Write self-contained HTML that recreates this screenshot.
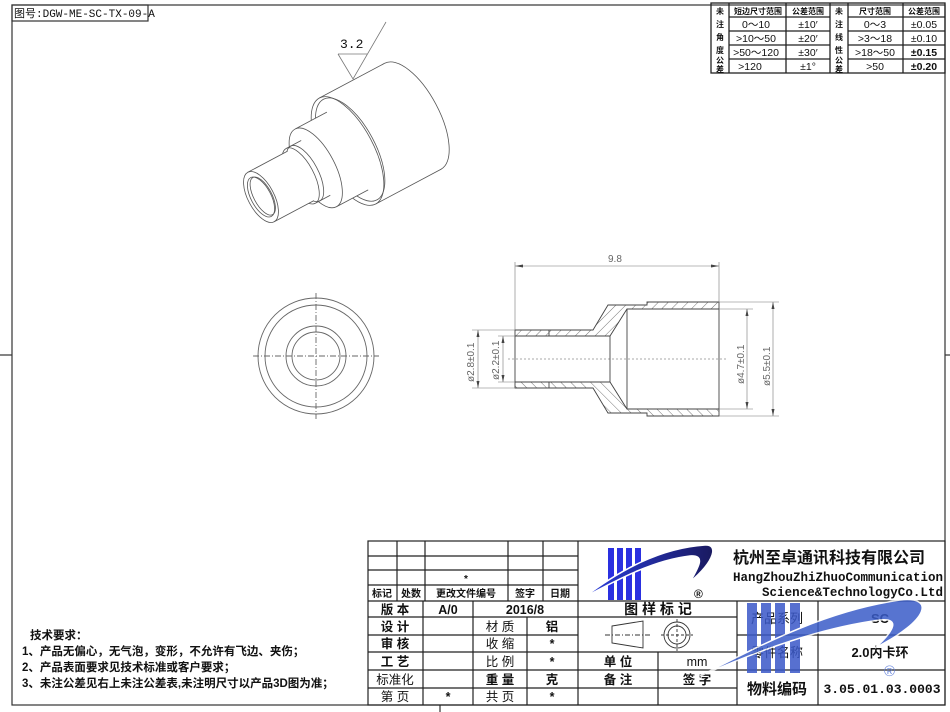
<!DOCTYPE html>
<html><head><meta charset="utf-8"><style>
html,body{margin:0;padding:0;background:#fff;}
svg{display:block;}
text{font-family:"Liberation Sans","Noto Sans CJK SC",sans-serif;fill:#111;}
.b{font-weight:bold;}
.m{font-family:"Liberation Mono","Noto Sans CJK SC",monospace;}
</style></head><body>
<svg width="950" height="712" viewBox="0 0 950 712" xmlns="http://www.w3.org/2000/svg">
<defs>
<pattern id="h1" width="7" height="7" patternUnits="userSpaceOnUse" patternTransform="rotate(45)"><line x1="0" y1="0" x2="0" y2="7" stroke="#555" stroke-width="0.8"/></pattern>
<pattern id="h2" width="7" height="7" patternUnits="userSpaceOnUse" patternTransform="rotate(-45)"><line x1="0" y1="0" x2="0" y2="7" stroke="#555" stroke-width="0.8"/></pattern>
<linearGradient id="sw" x1="0" y1="0" x2="1" y2="0"><stop offset="0" stop-color="#2a3ee0"/><stop offset="1" stop-color="#1a1a60"/></linearGradient>
</defs>
<!-- frame -->
<g stroke="#333" fill="none" stroke-width="1.2">
<rect x="12" y="5" width="933" height="700"/>
<rect x="12" y="5" width="136" height="16"/>
<line x1="0" y1="355" x2="12" y2="355"/>
<line x1="945" y1="355" x2="950" y2="355"/>
<line x1="440" y1="705" x2="440" y2="712"/>
</g>
<text x="14" y="17" font-size="11" class="m">图号:DGW-ME-SC-TX-09-A</text>

<!-- top-right tolerance table -->
<g stroke="#222" fill="none" stroke-width="1.3">
<rect x="711" y="3" width="234" height="70"/>
<line x1="729" y1="3" x2="729" y2="73"/><line x1="786" y1="3" x2="786" y2="73"/><line x1="830" y1="3" x2="830" y2="73"/><line x1="848" y1="3" x2="848" y2="73"/><line x1="903" y1="3" x2="903" y2="73"/>
<line x1="729" y1="17" x2="830" y2="17"/><line x1="729" y1="31" x2="830" y2="31"/><line x1="729" y1="45" x2="830" y2="45"/><line x1="729" y1="59" x2="830" y2="59"/>
<line x1="848" y1="17" x2="945" y2="17"/><line x1="848" y1="31" x2="945" y2="31"/><line x1="848" y1="45" x2="945" y2="45"/><line x1="848" y1="59" x2="945" y2="59"/>
</g>
<g font-size="8" class="b" text-anchor="middle">
<text x="720" y="14">未</text><text x="720" y="27">注</text><text x="720" y="40">角</text><text x="720" y="53">度</text><text x="720" y="63">公</text><text x="720" y="72">差</text>
<text x="839" y="14">未</text><text x="839" y="27">注</text><text x="839" y="40">线</text><text x="839" y="53">性</text><text x="839" y="63">公</text><text x="839" y="72">差</text>
<text x="758" y="14">短边尺寸范围</text><text x="808" y="14">公差范围</text><text x="875" y="14">尺寸范围</text><text x="924" y="14">公差范围</text>
</g>
<g font-size="10.5" text-anchor="middle">
<text x="756" y="28">0～10</text><text x="808" y="28">±10′</text>
<text x="756" y="42">&gt;10～50</text><text x="808" y="42">±20′</text>
<text x="756" y="56">&gt;50～120</text><text x="808" y="56">±30′</text>
<text x="750" y="70">&gt;120</text><text x="808" y="70">±1°</text>
<text x="875" y="28">0～3</text><text x="924" y="28">±0.05</text>
<text x="875" y="42">&gt;3～18</text><text x="924" y="42">±0.10</text>
<text x="875" y="56">&gt;18～50</text><text x="924" y="56" class="b">±0.15</text>
<text x="875" y="70">&gt;50</text><text x="924" y="70" class="b">±0.20</text>
</g>

<!-- roughness symbol -->
<text x="340" y="48" font-size="13" class="m">3.2</text>
<g stroke="#777" stroke-width="0.8" fill="none">
<polyline points="338,54 367,54"/><polyline points="338,54 353,79 386,22"/>
</g>

<!-- 3D view -->
<g transform="translate(261,197) rotate(-28)" stroke="#555" stroke-width="0.8" fill="#fff">
<!-- big -->
<ellipse cx="172" cy="0" rx="26" ry="60"/>
<rect x="98" y="-60" width="74" height="120" stroke="none"/>
<line x1="98" y1="-60" x2="172" y2="-60"/><line x1="98" y1="60" x2="172" y2="60"/>
<ellipse cx="98" cy="0" rx="26" ry="60"/>
<ellipse cx="101" cy="0" rx="25" ry="57" fill="none"/>
<!-- medium -->
<rect x="62" y="-44" width="36" height="88" stroke="none"/>
<line x1="62" y1="-44" x2="98" y2="-44"/><line x1="62" y1="44" x2="98" y2="44"/>
<ellipse cx="62" cy="0" rx="19" ry="44"/>
<!-- ring -->
<rect x="45" y="-31" width="17" height="62" stroke="none"/>
<line x1="45" y1="-31" x2="62" y2="-31"/><line x1="45" y1="31" x2="62" y2="31"/>
<ellipse cx="45" cy="0" rx="13" ry="31"/>
<ellipse cx="50" cy="0" rx="13" ry="31" fill="none"/>
<!-- small -->
<rect x="0" y="-28" width="45" height="56" stroke="none"/>
<line x1="0" y1="-28" x2="45" y2="-28"/><line x1="0" y1="28" x2="45" y2="28"/>
<ellipse cx="0" cy="0" rx="13" ry="28"/>
<ellipse cx="0" cy="0" rx="10" ry="22"/>
<ellipse cx="2" cy="0" rx="9" ry="21" fill="none"/>
</g>

<!-- front view circles -->
<g stroke="#666" stroke-width="0.9" fill="none">
<circle cx="316" cy="356" r="58"/><circle cx="316" cy="356" r="51"/><circle cx="316" cy="356" r="30"/><circle cx="316" cy="356" r="24"/>
<line x1="253" y1="356" x2="379" y2="356" stroke-dasharray="6,2,1,2"/>
<line x1="316" y1="293" x2="316" y2="419" stroke-dasharray="6,2,1,2"/>
</g>

<!-- section view -->
<polygon points="515,330 593,330 608,305 647,305 647,302 719,302 719,309 627,309 610,336 515,336" fill="url(#h1)" stroke="#444" stroke-width="0.9"/>
<polygon points="515,388 593,388 608,413 647,413 647,416 719,416 719,409 627,409 610,382 515,382" fill="url(#h2)" stroke="#444" stroke-width="0.9"/>
<g stroke="#444" stroke-width="0.9" fill="none">
<line x1="515" y1="336" x2="515" y2="382"/>
<line x1="610" y1="336" x2="610" y2="382"/>
<line x1="627" y1="309" x2="627" y2="409"/>
<line x1="719" y1="309" x2="719" y2="409"/>
<line x1="549" y1="330" x2="549" y2="336"/><line x1="549" y1="382" x2="549" y2="388"/>
</g>
<line x1="508" y1="359" x2="726" y2="359" stroke="#555" stroke-width="0.6" stroke-dasharray="2,2"/>
<g stroke="#777" stroke-width="0.6" fill="none">
<line x1="515" y1="262" x2="515" y2="330"/><line x1="719" y1="262" x2="719" y2="302"/>
<line x1="515" y1="266" x2="719" y2="266"/>
<line x1="472" y1="330" x2="515" y2="330"/><line x1="472" y1="388" x2="515" y2="388"/>
<line x1="498" y1="336" x2="515" y2="336"/><line x1="498" y1="382" x2="515" y2="382"/>
<line x1="719" y1="309" x2="753" y2="309"/><line x1="719" y1="409" x2="753" y2="409"/>
<line x1="719" y1="302" x2="779" y2="302"/><line x1="719" y1="416" x2="779" y2="416"/>
<line x1="478" y1="330" x2="478" y2="388"/><line x1="503" y1="336" x2="503" y2="382"/>
<line x1="747" y1="309" x2="747" y2="409"/><line x1="773" y1="302" x2="773" y2="416"/>
</g>
<g fill="#444">
<polygon points="515,266 523,264.5 523,267.5"/><polygon points="719,266 711,264.5 711,267.5"/>
<polygon points="478,330 476.5,337 479.5,337"/><polygon points="478,388 476.5,381 479.5,381"/>
<polygon points="503,336 501.5,343 504.5,343"/><polygon points="503,382 501.5,375 504.5,375"/>
<polygon points="747,309 745.5,316 748.5,316"/><polygon points="747,409 745.5,402 748.5,402"/>
<polygon points="773,302 771.5,309 774.5,309"/><polygon points="773,416 771.5,409 774.5,409"/>
</g>
<g font-size="10" fill="#666" style="fill:#666">
<text x="608" y="262" style="fill:#666">9.8</text>
<text transform="translate(474,382) rotate(-90)" style="fill:#666">ø2.8±0.1</text>
<text transform="translate(499,380) rotate(-90)" style="fill:#666">ø2.2±0.1</text>
<text transform="translate(744,384) rotate(-90)" style="fill:#666">ø4.7±0.1</text>
<text transform="translate(770,386) rotate(-90)" style="fill:#666">ø5.5±0.1</text>
</g>

<!-- notes -->
<g font-size="11.5" class="b">
<text x="30" y="639">技术要求：</text>
<text x="22" y="655">1、产品无偏心，无气泡，变形，不允许有飞边、夹伤；</text>
<text x="22" y="671">2、产品表面要求见技术标准或客户要求；</text>
<text x="22" y="687">3、未注公差见右上未注公差表,未注明尺寸以产品3D图为准；</text>
</g>

<!-- title block -->
<g stroke="#222" stroke-width="1.2" fill="none">
<rect x="368" y="541" width="577" height="164"/>
<line x1="368" y1="556" x2="578" y2="556"/><line x1="368" y1="570" x2="578" y2="570"/><line x1="368" y1="585" x2="578" y2="585"/>
<line x1="368" y1="601" x2="945" y2="601"/>
<line x1="397" y1="541" x2="397" y2="601"/><line x1="425" y1="541" x2="425" y2="601"/><line x1="508" y1="541" x2="508" y2="601"/><line x1="543" y1="541" x2="543" y2="601"/>
<line x1="578" y1="541" x2="578" y2="705"/>
<line x1="423" y1="601" x2="423" y2="705"/><line x1="473" y1="601" x2="473" y2="705"/><line x1="527" y1="617" x2="527" y2="705"/>
<line x1="368" y1="617" x2="737" y2="617"/><line x1="368" y1="635" x2="578" y2="635"/><line x1="368" y1="652" x2="737" y2="652"/><line x1="368" y1="670" x2="737" y2="670"/><line x1="368" y1="688" x2="737" y2="688"/>
<line x1="658" y1="652" x2="658" y2="705"/>
<line x1="737" y1="601" x2="737" y2="705"/><line x1="818" y1="601" x2="818" y2="705"/>
<line x1="737" y1="635" x2="945" y2="635"/><line x1="737" y1="670" x2="945" y2="670"/>
</g>
<g font-size="10" class="b" text-anchor="middle">
<text x="466" y="582">*</text>
<text x="382" y="597">标记</text><text x="411" y="597">处数</text><text x="466" y="597">更改文件编号</text><text x="525" y="597">签字</text><text x="560" y="597">日期</text>
</g>
<g font-size="12.5" class="b" text-anchor="middle">
<text x="395" y="614">版 本</text><text x="448" y="614">A/0</text><text x="525" y="614">2016/8</text>
<text x="395" y="631">设 计</text><text x="500" y="631" font-weight="normal">材 质</text><text x="552" y="631">铝</text>
<text x="395" y="648">审 核</text><text x="500" y="648" font-weight="normal">收 缩</text><text x="552" y="648">*</text>
<text x="395" y="666">工 艺</text><text x="500" y="666" font-weight="normal">比 例</text><text x="552" y="666">*</text>
<text x="395" y="684" font-weight="normal">标准化</text><text x="500" y="684">重 量</text><text x="552" y="684">克</text>
<text x="395" y="701" font-weight="normal">第 页</text><text x="448" y="701">*</text><text x="500" y="701" font-weight="normal">共 页</text><text x="552" y="701">*</text>
<text x="658" y="614" font-size="14">图 样 标 记</text>
<text x="618" y="666">单 位</text><text x="697" y="666" font-weight="normal">mm</text>
<text x="618" y="684">备 注</text><text x="697" y="684">签 字</text>
</g>
<!-- symbols -->
<g stroke="#333" stroke-width="0.9" fill="none">
<polygon points="612,626 643,621 643,648 612,643"/>
<line x1="605" y1="635" x2="652" y2="635" stroke-dasharray="5,2,1,2"/>
<circle cx="677" cy="635" r="13"/><circle cx="677" cy="635" r="9"/>
<line x1="661" y1="635" x2="693" y2="635" stroke-dasharray="3,2"/><line x1="677" y1="619" x2="677" y2="651" stroke-dasharray="3,2"/>
</g>

<!-- small logo -->
<g fill="#2a30e0">
<rect x="608" y="548" width="6" height="52"/><rect x="617" y="548" width="6" height="52"/><rect x="626" y="548" width="6" height="52"/><rect x="635" y="548" width="6" height="52"/>
</g>
<path d="M583,598 C620,570 660,548 705,545 C718,544 716,560 690,582 C700,565 705,555 690,556 C655,560 620,578 583,598 Z" fill="url(#sw)" stroke="#fff" stroke-width="1.5"/>
<text x="694" y="598" font-size="12" class="b">®</text>
<text x="733" y="563" font-size="16" class="b">杭州至卓通讯科技有限公司</text>
<text x="733" y="581" font-size="12.5" class="m b" textLength="210">HangZhouZhiZhuoCommunication</text>
<text x="762" y="596" font-size="12.5" class="m b" textLength="181">Science&amp;TechnologyCo.Ltd</text>

<!-- right texts -->
<g font-size="13" class="b" text-anchor="middle">
<text x="777" y="623" font-weight="normal">产品系列</text><text x="880" y="623">SC</text>
<text x="777" y="657" font-weight="normal">零件名称</text><text x="880" y="657">2.0内卡环</text>
<text x="777" y="694" font-size="15">物料编码</text><text x="882" y="693" class="m">3.05.01.03.0003</text>
</g>
<!-- watermark -->
<g opacity="0.85">
<g fill="#3a58c8">
<rect x="747" y="603" width="10" height="70"/><rect x="761" y="603" width="10" height="70"/><rect x="775" y="603" width="10" height="70"/><rect x="790" y="603" width="10" height="70"/>
</g>
<path d="M700,676 C770,640 830,610 900,600 C935,596 930,620 875,648 C895,630 900,618 880,620 C820,628 760,650 700,676 Z" fill="#3a5cc8" stroke="#fff" stroke-width="1.5"/>
<text x="884" y="676" font-size="15" style="fill:#5a7ad8">®</text>
</g>
</svg>
</body></html>
